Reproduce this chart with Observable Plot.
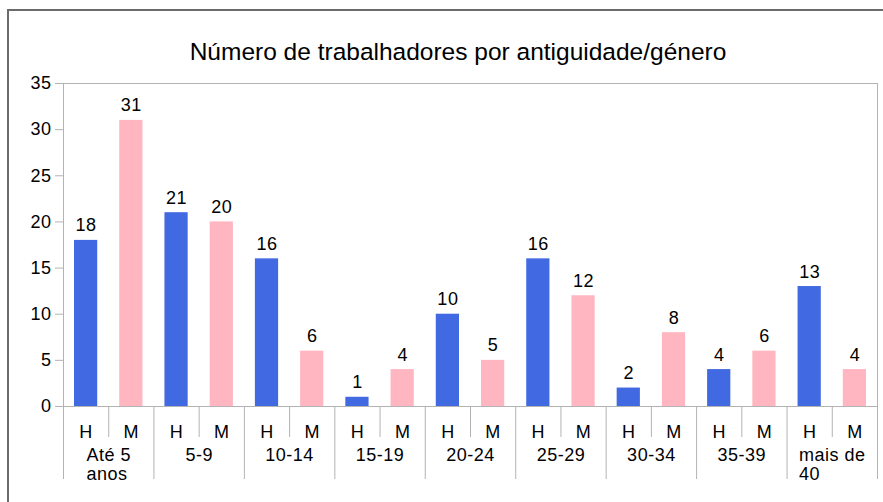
<!DOCTYPE html>
<html>
<head>
<meta charset="utf-8">
<script src="https://cdn.jsdelivr.net/npm/d3@7"></script>
<script src="https://cdn.jsdelivr.net/npm/@observablehq/plot@0.6"></script>
<style>
  html, body { margin: 0; padding: 0; background: #fff; }
  body { width: 883px; height: 502px; position: relative; overflow: hidden; font-family: "Liberation Sans", Arial, sans-serif; }
  #outer { position: absolute; left: 7px; top: 9px; width: 1000px; height: 600px; border-left: 2px solid #6b6b6b; border-top: 2px solid #6b6b6b; }
  #title { position: absolute; left: 0; width: 916px; top: 38px; text-align: center; font-size: 24.5px; color: #000; line-height: 28px; }
  #chart { position: absolute; left: 0; top: 0; }
</style>
</head>
<body>
<div id="outer"></div>
<div id="title">Número de trabalhadores por antiguidade/género</div>
<div id="chart"></div>
<script>
const groups = ["Até 5 anos", "5-9", "10-14", "15-19", "20-24", "25-29", "30-34", "35-39", "mais de 40"];
const groupLabels = ["Até 5\nanos", "5-9", "10-14", "15-19", "20-24", "25-29", "30-34", "35-39", "mais de\n40"];
const genders = ["H", "M"];
const homens = [18, 21, 16, 1, 10, 16, 2, 4, 13];
const mulheres = [31, 20, 6, 4, 5, 12, 8, 6, 4];
const yTicks = [0, 5, 10, 15, 20, 25, 30, 35];
const colors = ["#4169E1", "#FFB6C1"];

const series = [homens, mulheres];
const data = groups.flatMap((g, i) => genders.map((s, j) => ({
  group: g, gender: s, slot: 2 * i + j, value: series[j][i]
})));

const nSlots = groups.length * genders.length;
const boundaries = d3.range(0, nSlots + 1, 2);
const middles = d3.range(1, nSlots, 2);
const slotCenters = d3.range(nSlots).map(k => k + 0.5);
const groupCenters = groups.map((g, i) => 2 * i + 1);

const grid = "#b3b3b3";
const font = "Liberation Sans, Arial, sans-serif";
const fs = 18;

const chart = Plot.plot({
  width: 883,
  height: 502,
  marginLeft: 63,
  marginRight: 6,
  marginTop: 83,
  marginBottom: 96,
  style: { fontFamily: font, fontSize: fs + "px", letterSpacing: "0.5px", color: "#000", background: "transparent" },
  x: { type: "linear", domain: [0, nSlots] },
  y: { domain: [0, 35] },
  color: { domain: genders, range: colors },
  marks: [
    Plot.rectY(data, { x1: "slot", x2: d => d.slot + 1, y: "value", fill: "gender", insetLeft: 11, insetRight: 11 }),
    Plot.text(data, { x: d => d.slot + 0.5, y: "value", text: d => String(d.value), lineAnchor: "bottom", dy: -9, fontSize: fs, fill: "#000" }),
    Plot.frame({ stroke: grid }),
    Plot.axisY({ ticks: yTicks, tickSize: 8, tickPadding: 4, stroke: grid, fill: "#000", fontSize: fs, label: null, tickFormat: d => String(d) }),
    Plot.axisX({ ticks: boundaries, tickSize: 73, stroke: grid, tickFormat: () => "", label: null }),
    Plot.axisX({ ticks: middles, tickSize: 31, stroke: grid, tickFormat: () => "", label: null }),
    Plot.axisX({ ticks: slotCenters, tickSize: 0, tickPadding: 19, tickFormat: k => genders[Math.floor(k) % 2], fill: "#000", fontSize: fs, label: null }),
    Plot.axisX({ ticks: groupCenters, tickSize: 0, tickPadding: 41, tickFormat: k => groupLabels[(k - 1) / 2], fill: "#000", fontSize: fs, lineHeight: 1.06, label: null, className: "grp" })
  ]
});
document.getElementById("chart").appendChild(chart);

// Multi-line group labels: centred as a block, lines left-aligned (as in the reference)
chart.querySelectorAll(".grp text").forEach(t => {
  if (t.querySelectorAll("tspan").length > 1) {
    const w = t.getBBox().width;
    t.setAttribute("text-anchor", "start");
    t.setAttribute("transform", (t.getAttribute("transform") || "") + ` translate(${-w / 2},0)`);
  }
});
</script>
</body>
</html>
